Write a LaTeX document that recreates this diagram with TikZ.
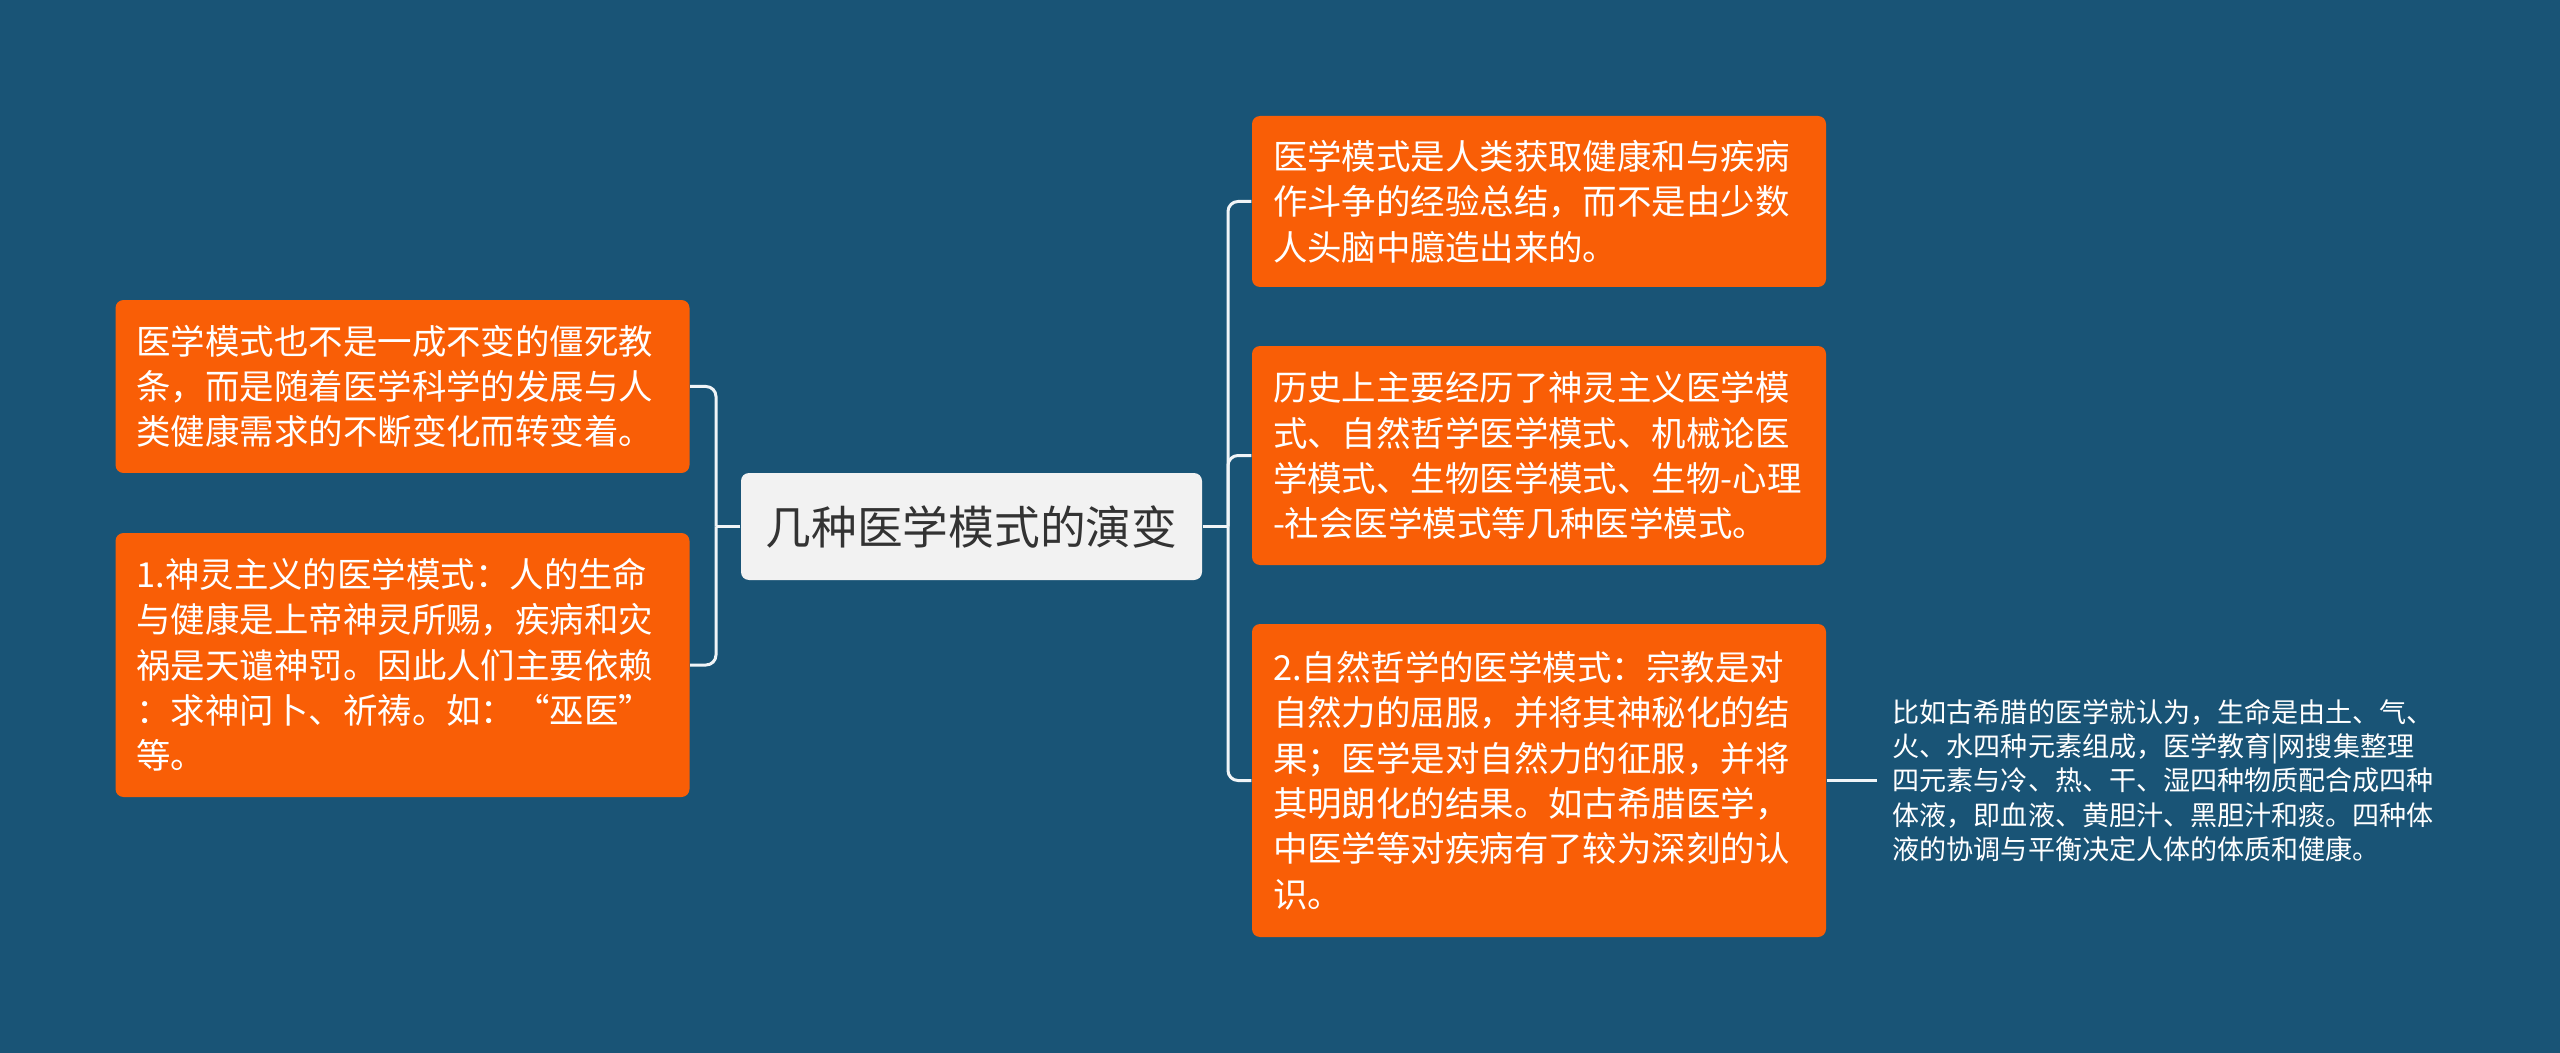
\documentclass[tikz,border=0pt]{standalone}
\usepackage{fontspec}
\setmainfont{Noto Sans CJK SC}

\definecolor{bgblue}{RGB}{25,84,118}
\definecolor{boxorange}{RGB}{249,94,6}
\definecolor{topicgray}{RGB}{242,242,242}
\definecolor{topictext}{RGB}{51,51,51}
\definecolor{linewhite}{RGB}{240,244,247}

\begin{document}
\begin{tikzpicture}[x=0.1mm,y=-0.1mm,
  idea/.style={fill=boxorange,rounded corners=0.8mm,text=white,align=left,
    text width=53.2mm,inner xsep=2.1mm,inner ysep=0pt,
    font=\fontsize{9.8pt}{12.9pt}\selectfont},
  topic/.style={fill=topicgray,rounded corners=0.8mm,text=topictext,
    minimum width=46.1mm,minimum height=10.7mm,inner sep=0pt,
    font=\fontsize{13pt}{16pt}\selectfont},
  note/.style={text=white,align=left,inner xsep=1.5mm,inner ysep=0pt,
    font=\fontsize{7.7pt}{9.7pt}\selectfont},
  branch/.style={draw=linewhite,line width=0.3mm,rounded corners=1mm}]

\fill [bgblue] (0,0) rectangle (2560,1053);
\useasboundingbox (0,0) rectangle (2560,1053);

\node [topic] (evolution) at (971.5,526.5) {几种医学模式的演变};

\node [idea,minimum height=17.3mm] (notfixed) at (402.5,386.5)
  {医学模式也不是一成不变的僵死教\\条，而是随着医学科学的发展与人\\类健康需求的不断变化而转变着。};
\node [idea,minimum height=26.4mm] (spirit) at (402.5,665)
  {1.神灵主义的医学模式：人的生命\\与健康是上帝神灵所赐，疾病和灾\\祸是天谴神罚。因此人们主要依赖\\：求神问卜、祈祷。如：“巫医”\\等。};

\node [idea,minimum height=17.1mm] (summary) at (1539,201.5)
  {医学模式是人类获取健康和与疾病\\作斗争的经验总结，而不是由少数\\人头脑中臆造出来的。};
\node [idea,minimum height=21.9mm] (history) at (1539,455.5)
  {历史上主要经历了神灵主义医学模\\式、自然哲学医学模式、机械论医\\学模式、生物医学模式、生物-心理\\-社会医学模式等几种医学模式。};
\node [idea,minimum height=31.3mm] (nature) at (1539,780.5)
  {2.自然哲学的医学模式：宗教是对\\自然力的屈服，并将其神秘化的结\\果；医学是对自然力的征服，并将\\其明朗化的结果。如古希腊医学，\\中医学等对疾病有了较为深刻的认\\识。};

\node [note,anchor=west] (humors) at (1877,780.5)
  {比如古希腊的医学就认为，生命是由土、气、\\火、水四种元素组成，医学教育|网搜集整理\\四元素与冷、热、干、湿四种物质配合成四种\\体液，即血液、黄胆汁、黑胆汁和痰。四种体\\液的协调与平衡决定人体的体质和健康。};

\coordinate (lfork) at (716,526.5);
\coordinate (rfork) at (1228,526.5);

\draw [branch] (evolution.west) -- (lfork);
\foreach \n in {notfixed,spirit}
  \draw [branch] (lfork) |- (\n.east);

\draw [branch] (evolution.east) -- (rfork);
\foreach \n in {summary,history,nature}
  \draw [branch] (rfork) |- (\n.west);

\draw [branch] (nature.east) -- (humors.west);

\end{tikzpicture}
\end{document}
